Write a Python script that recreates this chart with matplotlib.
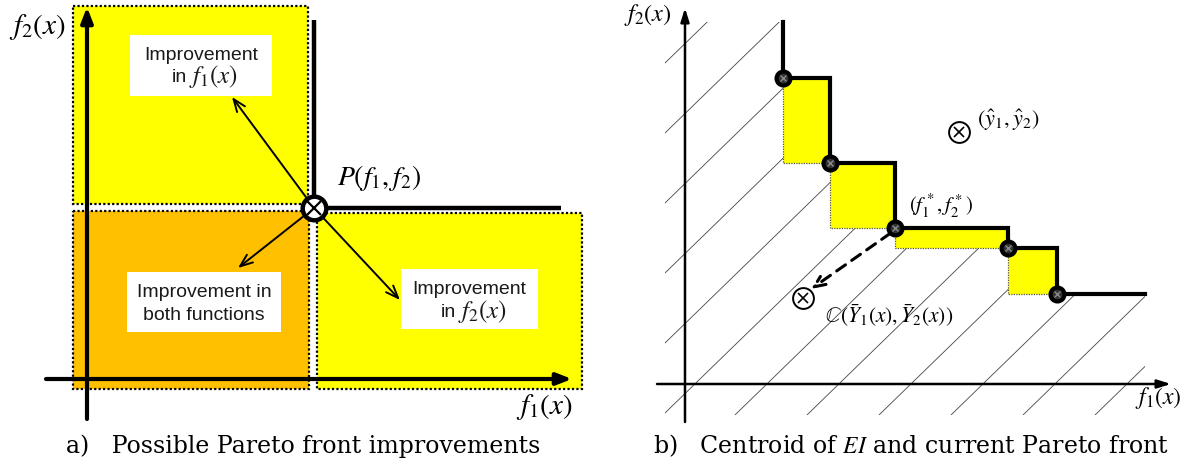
import matplotlib
matplotlib.use("Agg")
import matplotlib.pyplot as plt
from matplotlib.patches import Rectangle, Polygon
import numpy as np

plt.rcParams['mathtext.fontset'] = 'stix'
plt.rcParams['font.family'] = ['Liberation Sans', 'DejaVu Sans']

# ---------------- data (diagram coordinates, y grows downward) ----------------
# Panel a
pareto_point_a = (314, 208)
region_upper_left = (73, 6, 308, 204)      # x0, y0, x1, y1
region_lower_left = (73, 211, 309, 389)
region_lower_right = (317, 213, 582, 389)
box_rects_a = [(130, 35, 272, 96), (127, 272, 281, 332), (401, 269, 538, 329)]
box_line1_a = ["Improvement", "Improvement in", "Improvement"]
box_line2_text_a = ["in", "both functions", "in"]
box_line2_math_a = [r"$f_1(x)$", None, r"$f_2(x)$"]
arrow_tips_a = [(232, 97), (238, 268), (400, 300)]

# Panel b
front_f1 = [783, 830, 895, 1008, 1057]
front_f2 = [78, 163, 228, 248, 294]
front_top = 22
front_right = 1145
ideal_point = (959, 132)
centroid_point = (803, 298)
hatch_left, hatch_bottom = 665, 415
hatch_first, hatch_step, hatch_slope = 63, 70, 0.972

YELLOW = '#FFFF00'
ORANGE = '#FFC000'

fig = plt.figure(figsize=(11.84, 4.65), dpi=100)
ax = fig.add_axes([0, 0, 1, 1])
ax.set_xlim(0, 1184)
ax.set_ylim(465, 0)
ax.axis('off')


def rect(r, fc, ec='black', lw=1.6, ls=(0, (1, 1)), z=1):
    x0, y0, x1, y1 = r
    p = Rectangle((x0, y0), x1 - x0, y1 - y0, facecolor=fc, edgecolor=ec,
                  linewidth=lw, linestyle=ls, zorder=z)
    ax.add_patch(p)
    return p


# ---------------- panel a ----------------
rect(region_upper_left, YELLOW)
rect(region_lower_left, ORANGE)
rect(region_lower_right, YELLOW)

# axes
ax.annotate('', xy=(87, 7), xytext=(87, 419),
            arrowprops=dict(arrowstyle='-|>,head_length=0.9,head_width=0.35', lw=3, color='black',
                            shrinkA=0, shrinkB=0), zorder=5)
ax.annotate('', xy=(572, 379), xytext=(46, 379),
            arrowprops=dict(arrowstyle='-|>,head_length=0.9,head_width=0.35', lw=3, color='black',
                            shrinkA=0, shrinkB=0), zorder=5)

# Pareto lines
px, py = pareto_point_a
ax.plot([px, px], [20, py], color='black', lw=3.2, zorder=6, solid_capstyle='butt')
ax.plot([px, 561], [py, py], color='black', lw=3.2, zorder=6, solid_capstyle='butt')

# improvement arrows
for tip in arrow_tips_a:
    ax.annotate('', xy=tip, xytext=(px, py),
                arrowprops=dict(arrowstyle='->,head_length=0.9,head_width=0.35', lw=1.4,
                                color='black', shrinkA=0, shrinkB=0), zorder=7)

# text boxes
for r, l1, l2t, l2m in zip(box_rects_a, box_line1_a, box_line2_text_a, box_line2_math_a):
    rect(r, 'white', ec='none', lw=0, ls='-', z=8)
    cx = (r[0] + r[2]) / 2
    ax.text(cx, r[1] + 20, l1, ha='center', va='center', fontsize=14,
            color='#1a1a1a', zorder=9)
    if l2m is None:
        ax.text(cx, r[1] + 43, l2t, ha='center', va='center', fontsize=14,
                color='#1a1a1a', zorder=9)
    else:
        ax.text(cx - 14, r[1] + 43, l2t, ha='right', va='center', fontsize=14,
                color='#1a1a1a', zorder=9)
        ax.text(cx - 12, r[1] + 42, l2m, ha='left', va='center', fontsize=18,
                color='#1a1a1a', zorder=9)

# point P
ax.plot(px, py, marker='o', ms=17, mfc='white', mec='black', mew=3.2, zorder=10)
ax.plot(px, py, marker='x', ms=10, mec='black', mew=1.6, zorder=11)
ax.text(337, 178, r'$P(f_1,f_2)$', fontsize=20, ha='left', va='center', zorder=10)

ax.text(9, 27, r'$f_2(x)$', fontsize=21, ha='left', va='center')
ax.text(516, 407, r'$f_1(x)$', fontsize=21, ha='left', va='center')
ax.text(66, 446, r'a)   Possible Pareto front improvements', fontsize=17,
        family='DejaVu Serif', ha='left', va='center')

# ---------------- panel b ----------------
# staircase coordinates
sx = [front_f1[0]]
sy = [front_top]
for i in range(len(front_f1)):
    sx.append(front_f1[i]); sy.append(front_f2[i])
    nxt = front_f1[i + 1] if i + 1 < len(front_f1) else front_right
    sx.append(nxt); sy.append(front_f2[i])

# hatch region (dominated area)
hatch_poly = Polygon([(hatch_left, front_top)] + list(zip(sx, sy)) +
                     [(front_right, hatch_bottom), (hatch_left, hatch_bottom)],
                     closed=True, facecolor='none', edgecolor='none')
ax.add_patch(hatch_poly)
for n in range(0, 14):
    c = hatch_first + hatch_step * n
    xs = np.array([hatch_left - 50, front_right + 50])
    ys = c - hatch_slope * (xs - hatch_left)
    ln, = ax.plot(xs, ys, color='#444444', lw=0.6, zorder=2)
    ln.set_clip_path(hatch_poly)

# yellow improvement rectangles
for i in range(len(front_f1) - 1):
    rect((front_f1[i], front_f2[i], front_f1[i + 1], front_f2[i + 1]), YELLOW,
         ec='#555555', lw=0.9, z=3)

# axes
ax.annotate('', xy=(685, 8), xytext=(685, 422),
            arrowprops=dict(arrowstyle='-|>,head_length=0.8,head_width=0.25', lw=1.8, color='black',
                            shrinkA=0, shrinkB=0), zorder=5)
ax.annotate('', xy=(1171, 384), xytext=(657, 384),
            arrowprops=dict(arrowstyle='-|>,head_length=0.8,head_width=0.25', lw=1.8, color='black',
                            shrinkA=0, shrinkB=0), zorder=5)

ax.plot(sx, sy, color='black', lw=3.0, zorder=6, solid_joinstyle='miter')
ax.plot(front_f1, front_f2, linestyle='none', marker='o', ms=10, mfc='#333333',
        mec='black', mew=3, zorder=7)
ax.plot(front_f1, front_f2, linestyle='none', marker='x', ms=4, mec='#888888',
        mew=1.0, zorder=7)

# dashed arrow toward centroid
ax.annotate('', xy=(811, 289), xytext=(front_f1[2], front_f2[2] + 2),
            arrowprops=dict(arrowstyle='->,head_length=0.8,head_width=0.35', lw=2.2,
                            linestyle=(0, (3.5, 2.5)), color='black', shrinkA=4, shrinkB=0),
            zorder=7)

for pt in (ideal_point, centroid_point):
    ax.plot(*pt, marker='o', ms=15, mfc='white', mec='black', mew=1.4, zorder=8)
    ax.plot(*pt, marker='x', ms=7.5, mec='black', mew=1.2, zorder=9)

ax.text(977, 120, r'$(\hat{y}_1,\hat{y}_2)$', fontsize=16, ha='left', va='center')
ax.text(909, 206, r'$(f_1^*,f_2^*)$', fontsize=15, ha='left', va='center')
ax.text(825, 316, r'$\mathbb{C}(\bar{Y}_1(x),\bar{Y}_2(x))$', fontsize=15.5,
        ha='left', va='center')

ax.text(624, 15, r'$f_2(x)$', fontsize=17.5, ha='left', va='center')
ax.text(1135, 398, r'$f_1(x)$', fontsize=17, ha='left', va='center')
ax.text(653, 446, r'b)   Centroid of $\mathit{EI}$ and current Pareto front', fontsize=17,
        family='DejaVu Serif', ha='left', va='center')

fig.savefig('out.png', dpi=100)
